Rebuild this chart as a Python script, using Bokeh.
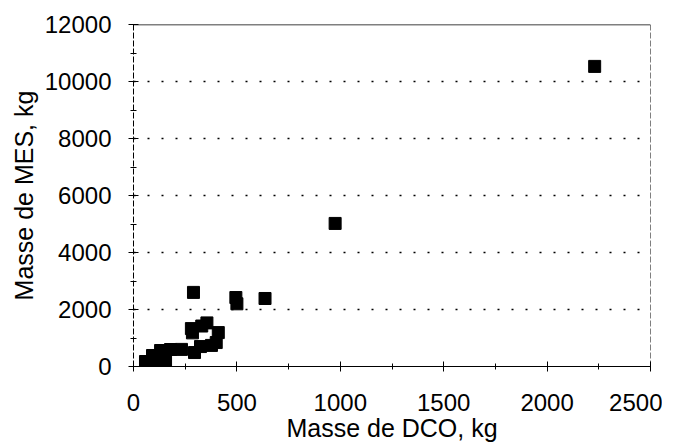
from bokeh.plotting import figure
from bokeh.models import SingleIntervalTicker, Span
from bokeh.embed import file_html
from bokeh.resources import INLINE

# Masse de DCO (kg) and Masse de MES (kg)
dco = [58, 92, 110, 131, 155, 179, 232,
       280, 285, 330, 355, 410, 400, 295, 324, 377,
       290, 495, 500, 636, 975, 2230]
mes = [175, 386, 175, 561, 210, 596, 600,
       1330, 1180, 1420, 1530, 1190, 840, 490, 700, 740,
       2600, 2420, 2200, 2386, 5020, 10530]

x_label = "Masse de DCO, kg"
y_label = "Masse de MES, kg"
FONT = "Liberation Sans"

p = figure(frame_width=517, frame_height=342,
           x_range=(0, 2500), y_range=(0, 12000),
           output_backend="svg", toolbar_location=None,
           min_border_left=133, min_border_right=12,
           min_border_top=24, min_border_bottom=70)
p.outline_line_color = None
p.background_fill_color = "white"

p.scatter(dco, mes, marker="square", size=12, fill_color="black",
          line_color="black")

p.xaxis.ticker = SingleIntervalTicker(interval=500, num_minor_ticks=2)
p.yaxis.ticker = SingleIntervalTicker(interval=2000, num_minor_ticks=2)

for ax in (p.xaxis, p.yaxis):
    ax.major_label_text_font = FONT
    ax.major_label_text_font_size = "24px"
    ax.major_label_text_color = "black"
    ax.axis_label_text_font = FONT
    ax.axis_label_text_font_size = "25px"
    ax.axis_label_text_font_style = "normal"
    ax.axis_label_text_color = "black"
    ax.axis_line_color = "black"
    ax.major_tick_line_color = "black"
    ax.minor_tick_line_color = "black"
    ax.major_tick_in = 5
    ax.major_tick_out = 5
    ax.minor_tick_in = 3
    ax.minor_tick_out = 3

p.xaxis.axis_label = x_label
p.yaxis.axis_label = y_label
p.xaxis.major_label_standoff = 22
p.yaxis.major_label_standoff = 17
p.xaxis.axis_label_standoff = 0
p.yaxis.axis_label_standoff = 4
p.yaxis.axis_line_dash = "6 2"

p.xgrid.visible = False
p.ygrid.grid_line_color = "black"
p.ygrid.grid_line_width = 1.5
p.ygrid.grid_line_dash = "2 12"

p.add_layout(Span(location=12000, dimension="width", line_color="black",
                  line_width=1.5))
p.add_layout(Span(location=2500, dimension="height", line_color="black",
                  line_width=1, line_dash="6 2"))

open("out.html", "w").write(file_html(p, INLINE))
